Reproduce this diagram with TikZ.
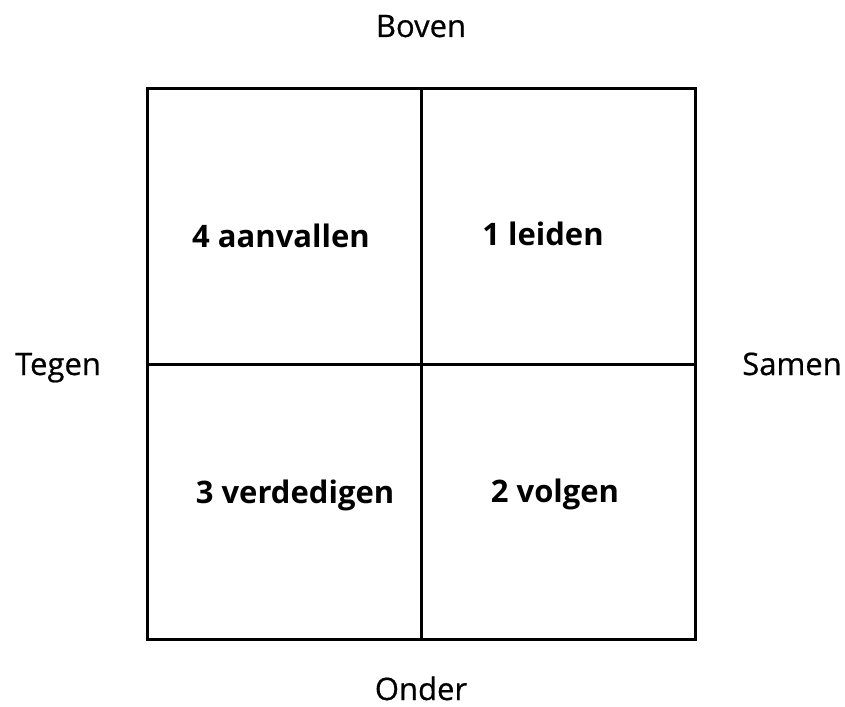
\documentclass[tikz,border=0pt]{standalone}
\usepackage{fontspec}
\setmainfont{Open Sans}
\newfontfamily\sidefont[FakeBold=0.6]{Open Sans}
\usetikzlibrary{positioning}

\begin{document}
\begin{tikzpicture}[
    x=1pt, y=-1pt,
    cell/.style={
        rectangle,
        draw=black,
        line width=3pt,
        minimum width=274pt,
        minimum height=275pt,
        inner sep=0pt,
        outer sep=0pt
    },
    cell label/.style={
        font=\fontsize{31}{36}\selectfont\bfseries,
        anchor=base,
        inner sep=0pt
    },
    side label/.style={
        font=\fontsize{31}{36}\sidefont,
        anchor=base,
        inner sep=0pt
    }
]

\useasboundingbox (0,0) rectangle (845,706);

\node[cell] (topleft) at (284,226.5) {};
\node[cell, right=0pt of topleft] (topright) {};
\node[cell, below=0pt of topleft] (bottomleft) {};
\node[cell, below=0pt of topright] (bottomright) {};

\node[cell label] (attack) at (281,247) {4 aanvallen};
\node[cell label] (lead) at (543,245) {1 leiden};
\node[cell label] (defend) at (295,503) {3 verdedigen};
\node[cell label] (follow) at (555,502) {2 volgen};

\node[side label] (top) at (421,37) {Boven};
\node[side label] (bottom) at (421,700) {Onder};
\node[side label] (against) at (58,375) {Tegen};
\node[side label] (together) at (792,375) {Samen};

\end{tikzpicture}
\end{document}
